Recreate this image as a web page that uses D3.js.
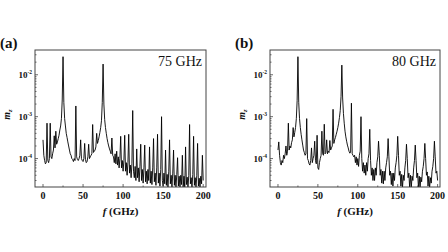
<!DOCTYPE html>
<html>
<head>
<meta charset="utf-8">
<script src="https://cdn.jsdelivr.net/npm/d3@7"></script>
<style>
  body { margin: 0; background: #fff; }
  svg { display: block; }
  text { font-family: "Liberation Serif", "Times New Roman", serif; fill: #111; }
  .frame { fill: none; stroke: #444; stroke-width: 1; }
  .tick { stroke: #444; stroke-width: 0.8; }
  .curve { fill: none; stroke: #000; stroke-width: 0.9; stroke-linejoin: round; }
</style>
</head>
<body>
<svg id="chart" width="448" height="252"></svg>
<script>
  // frequency grid, 1 GHz step (0 .. 200 GHz)
  const freq = d3.range(0, 201);

  // m_z, in units of 1e-4
  const mzA = [
    2.8, 1.2, 0.9, 0.75, 0.8, 7, 0.9, 0.8, 1.0, 7,
    1.1, 1.0, 1.3, 1.6, 3.5, 1.8, 4.5, 2.2, 2.5, 3.0,
    3.6, 4.8, 6.0, 9, 25, 270, 22, 9, 6, 4,
    3.2, 2.5, 2.0, 1.6, 1.3, 1.2, 1.0, 0.95, 0.85, 1.0,
    0.9, 18, 1.1, 0.95, 0.9, 1.0, 1.2, 2.8, 1.0, 0.9,
    0.85, 1.0, 2.3, 0.95, 0.8, 0.85, 1.1, 2.2, 1.0, 1.1,
    1.2, 1.3, 6.5, 1.4, 1.5, 1.6, 1.9, 4.0, 2.3, 2.7,
    3.3, 4.2, 5.5, 8, 22, 180, 20, 8.5, 5.5, 4.0,
    3.0, 2.4, 2.0, 1.7, 1.5, 1.3, 3.1, 1.2, 1.1, 0.8,
    1.3, 0.75, 1.5, 0.7, 1.1, 0.6, 1.0, 3.4, 0.6, 0.9,
    0.5, 0.9, 3.6, 0.5, 0.8, 0.4, 0.8, 3.8, 0.45, 0.7,
    0.35, 0.75, 14, 0.5, 0.35, 0.65, 0.3, 1.7, 0.35, 0.6,
    0.28, 0.65, 2.2, 0.3, 0.55, 0.26, 0.6, 2.1, 0.28, 0.5,
    0.25, 0.55, 0.3, 1.9, 0.26, 0.5, 0.24, 0.6, 3.0, 0.28,
    0.45, 0.23, 0.6, 3.8, 0.26, 0.45, 0.22, 0.55, 10, 0.3,
    0.22, 0.45, 0.25, 1.6, 0.23, 0.42, 0.21, 0.5, 2.8, 0.25,
    0.4, 0.21, 0.45, 1.6, 0.23, 0.4, 0.2, 0.42, 1.05, 0.22,
    0.38, 0.2, 0.4, 0.24, 1.2, 0.21, 0.38, 0.2, 1.9, 0.24,
    0.36, 0.2, 0.4, 6.5, 0.25, 0.35, 0.2, 0.42, 3.4, 0.23,
    0.35, 0.2, 0.4, 2.3, 0.22, 0.34, 0.2, 0.38, 0.25, 1.2,
    0.3
  ];
  const mzB = [
    1.6, 2.5, 1.2, 0.8, 0.7, 0.9, 0.8, 1.2, 1.0, 1.3,
    2.0, 1.2, 1.5, 7, 1.6, 2.0, 1.8, 2.4, 2.8, 5.5,
    3.3, 4.2, 5.5, 9, 24, 270, 22, 9, 5.5, 3.8,
    2.8, 2.1, 1.6, 1.4, 1.2, 1.3, 9, 1.0, 0.9, 0.75,
    0.7, 0.9, 1.8, 0.8, 1.0, 1.2, 2.6, 0.9, 0.75, 3.6,
    0.6, 0.55, 0.8, 1.0, 1.2, 4.5, 1.3, 1.2, 6.6, 1.3,
    1.4, 2.8, 1.3, 1.5, 1.4, 2.7, 1.6, 1.8, 2.0, 15,
    2.3, 2.8, 3.2, 3.8, 4.5, 5.5, 7, 9.5, 14, 30,
    170, 28, 12, 7, 4.5, 3.3, 2.6, 2.1, 1.8, 1.5,
    1.35, 1.4, 21, 1.3, 1.2, 1.1, 1.2, 0.8, 1.1, 0.7,
    1.0, 0.65, 1.2, 1.5, 10, 1.0, 0.5, 0.8, 0.45, 0.7,
    0.4, 0.8, 0.5, 1.0, 1.3, 5, 0.9, 0.4, 0.6, 0.3,
    0.55, 0.3, 0.6, 0.4, 0.8, 1.1, 2.6, 1.2, 0.4, 0.55,
    0.26, 0.5, 0.25, 0.5, 0.3, 0.6, 0.8, 1.1, 3.0, 1.1,
    0.4, 0.5, 0.24, 0.45, 0.22, 0.45, 0.3, 0.6, 0.8, 1.2,
    3.4, 1.2, 0.4, 0.5, 0.22, 0.42, 0.2, 0.4, 0.3, 0.6,
    0.9, 2.2, 1.0, 0.35, 0.45, 0.2, 0.4, 0.2, 0.38, 0.3,
    0.6, 0.9, 2.1, 0.9, 0.35, 0.45, 0.2, 0.38, 0.19, 0.36,
    0.28, 0.5, 0.65, 1.0, 2.3, 1.0, 0.4, 0.48, 0.22, 0.38,
    0.2, 0.35, 0.26, 0.5, 0.65, 1.0, 2.6, 1.1, 0.45, 0.5,
    0.3
  ];

  const panelLabels = ["(a)", "(b)"];
  const pumpLabels = ["75 GHz", "80 GHz"];
  const xTicks = [0, 50, 100, 150, 200];
  const xMinor = [25, 75, 125, 175];
  const yTicks = [1e-4, 1e-3, 1e-2];
  const yExp = ["-4", "-3", "-2"];

  const svg = d3.select("#chart");
  const plotTop = 50, plotBottom = 187;

  const panels = [
    { values: mzA, left: 35, right: 206, xMax: 203.5 },
    { values: mzB, left: 270, right: 440, xMax: 203 }
  ];

  panels.forEach((p, i) => {
    const g = svg.append("g");
    const x = d3.scaleLinear().domain([-10, p.xMax]).range([p.left, p.right]);
    const y = d3.scaleLog().domain([2.1e-5, 0.039]).range([plotBottom, plotTop]);

    const clipId = "clip" + i;
    svg.append("clipPath").attr("id", clipId)
      .append("rect")
      .attr("x", p.left).attr("y", plotTop)
      .attr("width", p.right - p.left).attr("height", plotBottom - plotTop);

    const line = d3.line()
      .x((d, k) => x(freq[k]))
      .y(d => y(d * 1e-4));

    g.append("path")
      .datum(p.values)
      .attr("class", "curve")
      .attr("clip-path", `url(#${clipId})`)
      .attr("d", line);

    // frame
    g.append("rect").attr("class", "frame")
      .attr("x", p.left).attr("y", plotTop)
      .attr("width", p.right - p.left).attr("height", plotBottom - plotTop);

    // x ticks (inward)
    g.selectAll(".xt").data(xTicks).join("line").attr("class", "tick xt")
      .attr("x1", d => x(d)).attr("x2", d => x(d))
      .attr("y1", plotBottom).attr("y2", plotBottom - 3);
    g.selectAll(".xm").data(xMinor).join("line").attr("class", "tick xm")
      .attr("x1", d => x(d)).attr("x2", d => x(d))
      .attr("y1", plotBottom).attr("y2", plotBottom - 1.5);
    g.selectAll(".xl").data(xTicks).join("text").attr("class", "xl")
      .attr("x", d => x(d)).attr("y", 199)
      .attr("text-anchor", "middle")
      .attr("font-size", 10).attr("font-weight", "bold")
      .text(d => d);

    // y ticks (inward), minor ticks between decades
    const minor = [];
    [1e-5, 1e-4, 1e-3, 1e-2].forEach(dec => {
      for (let m = 2; m <= 9; m++) {
        const v = m * dec;
        if (v > 2.1e-5 && v < 0.039) minor.push(v);
      }
    });
    g.selectAll(".ym").data(minor).join("line").attr("class", "tick ym")
      .attr("x1", p.left).attr("x2", p.left + 1.5)
      .attr("y1", d => y(d)).attr("y2", d => y(d));
    g.selectAll(".yt").data(yTicks).join("line").attr("class", "tick yt")
      .attr("x1", p.left).attr("x2", p.left + 3)
      .attr("y1", d => y(d)).attr("y2", d => y(d));
    const yl = g.selectAll(".yl").data(yTicks).join("text").attr("class", "yl")
      .attr("x", p.left - 3).attr("y", d => y(d) + 3)
      .attr("text-anchor", "end")
      .attr("font-size", 9).attr("font-weight", "bold");
    yl.append("tspan").text("10");
    yl.append("tspan").attr("dy", -3.5).attr("font-size", 5.5).text((d, k) => yExp[k]);

    // axis titles
    const yt = g.append("text")
      .attr("transform", `translate(${p.left - 25},${(plotTop + plotBottom) / 2 - 4}) rotate(-90)`)
      .attr("text-anchor", "middle")
      .attr("font-size", 10).attr("font-weight", "bold");
    yt.append("tspan").attr("font-style", "italic").text("m");
    yt.append("tspan").attr("font-size", 6.5).attr("dy", 2).attr("font-style", "italic").text("z");

    const xt = g.append("text")
      .attr("x", (p.left + p.right) / 2).attr("y", 215)
      .attr("text-anchor", "middle")
      .attr("font-size", 11).attr("font-weight", "bold");
    xt.append("tspan").attr("font-style", "italic").text("f");
    xt.append("tspan").text(" (GHz)");

    // panel letter and pump label
    g.append("text")
      .attr("x", p.left - 35).attr("y", 48)
      .attr("font-size", 15).attr("font-weight", "bold")
      .text(panelLabels[i]);
    g.append("text")
      .attr("x", p.right - 4).attr("y", 66)
      .attr("text-anchor", "end")
      .attr("font-size", 14)
      .text(pumpLabels[i]);
  });
</script>
</body>
</html>
